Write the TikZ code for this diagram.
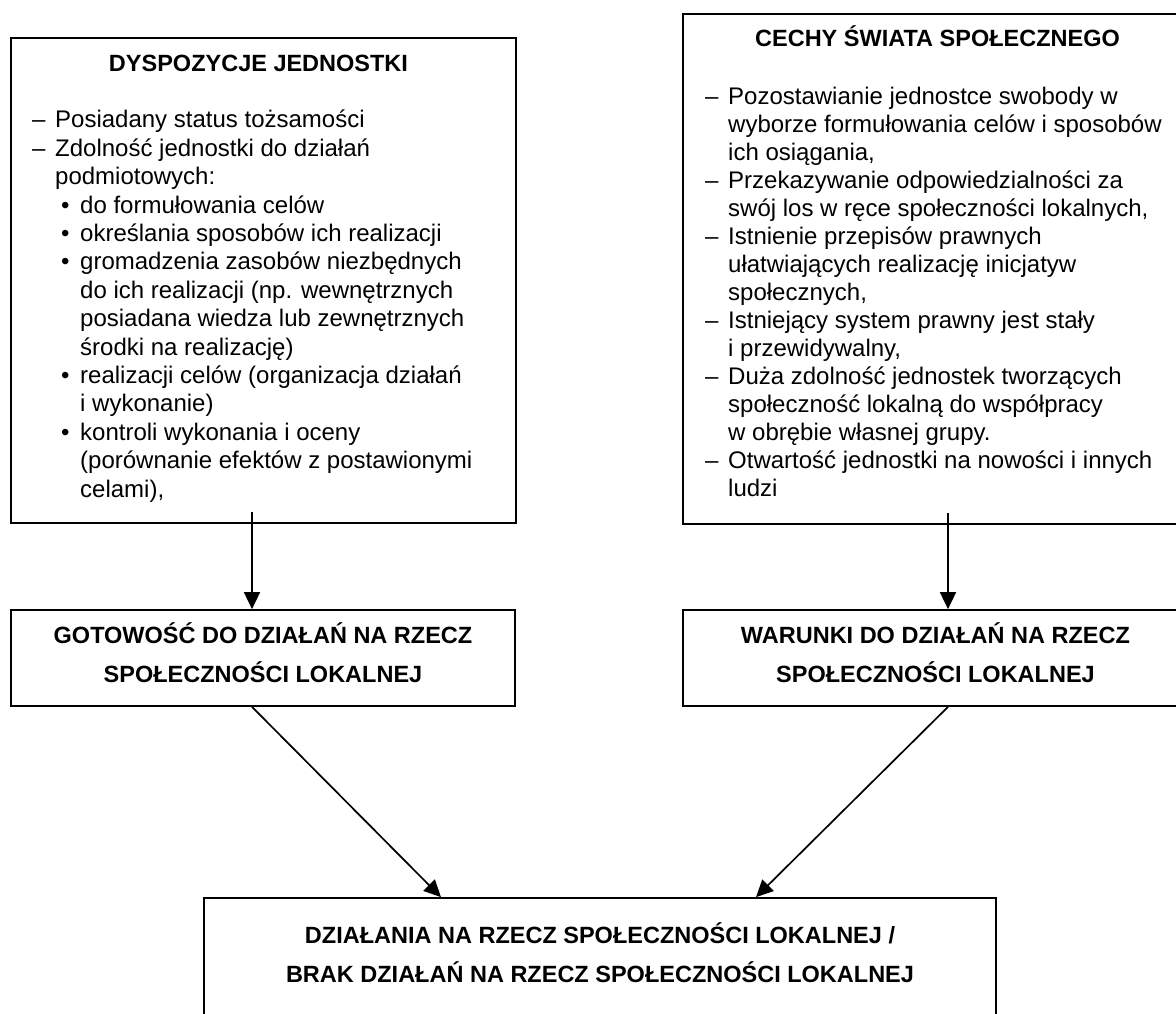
\documentclass[tikz,border=0pt]{standalone}
\usepackage{fontspec}
\setmainfont{Liberation Sans}
\usetikzlibrary{arrows.meta}
\newcommand\dashln[1]{\makebox[23pt][l]{–}#1\\}
\newcommand\contln[1]{\hspace*{23pt}#1\\}
\newcommand\bulln[1]{\hspace*{29pt}\makebox[19pt][l]{•}#1\\}
\newcommand\bcontln[1]{\hspace*{48pt}#1\\}
\tikzset{
  box/.style={draw=black, line width=1.7pt, fill=none, inner sep=0pt},
  txt/.style={inner sep=0pt, anchor=base west, font=\fontsize{24}{28.4}\selectfont},
  ttl/.style={inner sep=0pt, anchor=base, font=\fontsize{23.5}{28}\selectfont\bfseries},
  arr/.style={line width=1.7pt, -{Triangle[width=16pt,length=17pt]}}
}
\begin{document}
\begin{tikzpicture}[x=1pt,y=1pt]
\useasboundingbox (0,0) rectangle (1176,-1014);
\clip (0,0) rectangle (1176,-1014);
\fill[white] (0,0) rectangle (1176,-1014);
% boxes
\draw[box] (11,-38) rectangle (516,-523);
\node[inner sep=0, minimum width=505pt, minimum height=485pt] (b1) at (263.5,-280.5) {};
\draw[box] (683,-14) rectangle (1192,-524);
\node[inner sep=0, minimum width=509pt, minimum height=510pt] (b2) at (937.5,-269) {};
\node[box, minimum width=504pt, minimum height=96pt] (b3) at (263,-658) {};
\node[box, minimum width=509pt, minimum height=96pt] (b4) at (937.5,-658) {};
\node[box, minimum width=792pt, minimum height=140pt] (b5) at (600,-968) {};
% titles
\node[ttl] (t1) at (258.5,-72) {DYSPOZYCJE JEDNOSTKI};
\node[ttl] (t2) at (937.5,-47) {CECHY ŚWIATA SPOŁECZNEGO};
% box 1 text
\node[txt] (l1) at (32,-128) {\parbox[t]{480pt}{\fontsize{24}{28.4}\selectfont
\dashln{Posiadany status tożsamości}
\dashln{Zdolność jednostki do działań}
\contln{podmiotowych:}
\bulln{do formułowania celów}
\bulln{określania sposobów ich realizacji}
\bulln{gromadzenia zasobów niezbędnych}
\bcontln{do ich realizacji (np. wewnętrznych}
\bcontln{posiadana wiedza lub zewnętrznych}
\bcontln{środki na realizację)}
\bulln{realizacji celów (organizacja działań}
\bcontln{i wykonanie)}
\bulln{kontroli wykonania i oceny}
\bcontln{(porównanie efektów z postawionymi}
\bcontln{celami),}}};
% box 2 text
\node[txt] (l2) at (705,-105) {\parbox[t]{480pt}{\fontsize{24}{28}\selectfont
\dashln{Pozostawianie jednostce swobody w}
\contln{wyborze formułowania celów i sposobów}
\contln{ich osiągania,}
\dashln{Przekazywanie odpowiedzialności za}
\contln{swój los w ręce społeczności lokalnych,}
\dashln{Istnienie przepisów prawnych}
\contln{ułatwiających realizację inicjatyw}
\contln{społecznych,}
\dashln{Istniejący system prawny jest stały}
\contln{i przewidywalny,}
\dashln{Duża zdolność jednostek tworzących}
\contln{społeczność lokalną do współpracy}
\contln{w obrębie własnej grupy.}
\dashln{Otwartość jednostki na nowości i innych}
\contln{ludzi}}};
% box 3,4,5 text
\node[ttl] (g1) at (263,-643) {GOTOWOŚĆ DO DZIAŁAŃ NA RZECZ};
\node[ttl] (g2) at (263,-682) {SPOŁECZNOŚCI LOKALNEJ};
\node[ttl] (w1) at (935.5,-643) {WARUNKI DO DZIAŁAŃ NA RZECZ};
\node[ttl] (w2) at (935.5,-682) {SPOŁECZNOŚCI LOKALNEJ};
\node[ttl] (d1) at (600,-943) {DZIAŁANIA NA RZECZ SPOŁECZNOŚCI LOKALNEJ /};
\node[ttl] (d2) at (600,-982) {BRAK DZIAŁAŃ NA RZECZ SPOŁECZNOŚCI LOKALNEJ};
% connectors
\coordinate (s1) at (252,-512);
\coordinate (s2) at (948,-513);
\coordinate (e1) at (441,0);
\coordinate (e2) at (756,0);
\draw[arr] (s1) -- (b3.north -| s1);
\draw[arr] (s2) -- (b4.north -| s2);
\draw[arr] (b3.south -| s1) -- (b5.north -| e1);
\draw[arr] (b4.south -| s2) -- (b5.north -| e2);
\end{tikzpicture}
\end{document}
